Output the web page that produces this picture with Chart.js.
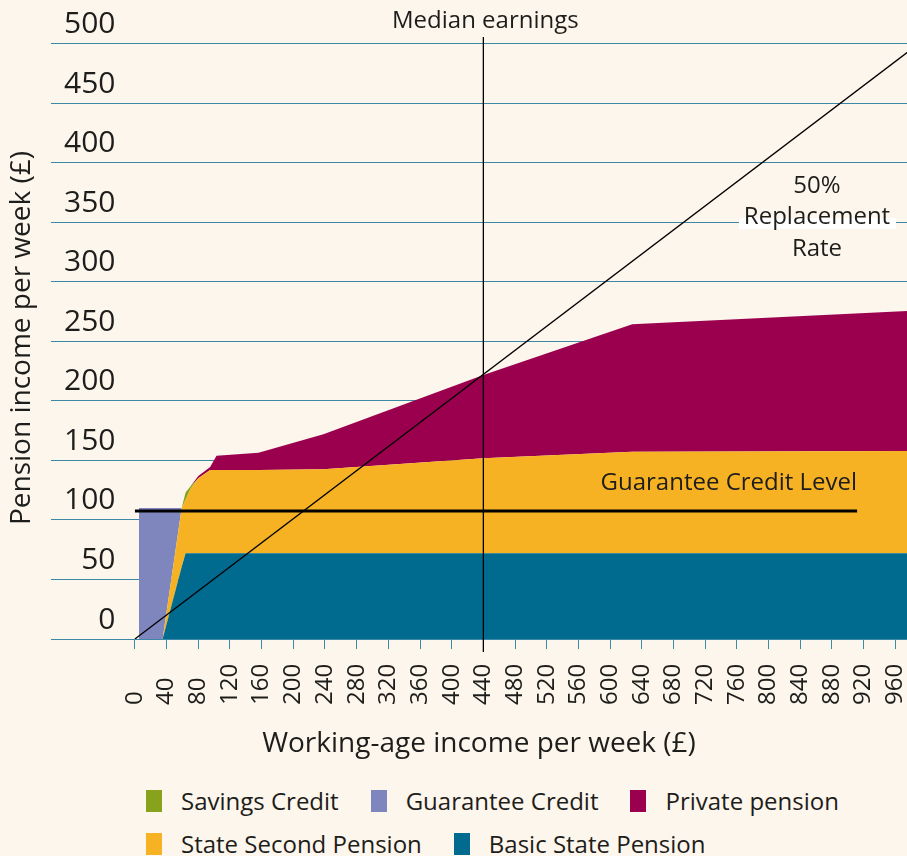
<!DOCTYPE html>
<html>
<head>
<meta charset="utf-8">
<script src="https://cdn.jsdelivr.net/npm/chart.js@4.4.1/dist/chart.umd.min.js"></script>
<style>
    body { margin: 0; background: #fdf6ec; font-family: "Open Sans", sans-serif; color: #1d1d1b; }
    #wrap { position: relative; width: 907px; height: 856px; overflow: hidden; }
    #CHART { display: block; }
    #legend {
        position: absolute; left: 146px; top: 790px; width: 761px;
        display: flex; flex-wrap: wrap; column-gap: 32px; row-gap: 21px;
        font-size: 24px; line-height: 22px;
    }
    #legend .item { display: flex; align-items: center; height: 22px; white-space: nowrap; }
    #legend .swatch { width: 16px; height: 22px; margin-right: 19px; }
</style>
</head>
<body>
<div id="wrap">
    <canvas id="CHART" width="907" height="780"></canvas>
    <div id="legend"></div>
</div>
<script>
"use strict"

// weekly working-age income (£) where the stacked pension components change
const incomes = [5, 35, 59, 64, 70, 80, 95, 103, 156, 238, 440, 628, 975]
const basicState = [0, 0, 60.5, 72, 72, 72, 72, 72, 72, 72, 72, 72, 72]
const stateSecond = [0, 0, 49.5, 45, 54, 63, 70, 70, 70, 70.6, 79.8, 85.3, 85.9]
const savingsCredit = [0, 0, 0, 6, 2, 0, 0, 0, 0, 0, 0, 0, 0]
const privatePension = [0, 0, 0, 0, 0, 2, 2.5, 12, 14.5, 29.4, 69.9, 107, 117.6]
const guaranteeCredit = [110, 110, 0, 0, 0, 0, 0, 0, 0, 0, 0, 0, 0]

// reference lines
const medianIncome = 440
const guaranteeLevel = 107.5
const guaranteeSpan = [0, 912]
const replacementRate = [[0, 0], [980, 495]]

const xTickValues = [0, 40, 80, 120, 160, 200, 240, 280, 320, 360, 400, 440, 480,
    520, 560, 600, 640, 680, 720, 760, 800, 840, 880, 920, 960]
const legendOrder = ["Savings Credit", "Guarantee Credit", "Private pension",
    "State Second Pension", "Basic State Pension"]

const FONT = "\"Open Sans\", sans-serif"
const INK = "#1d1d1b"
const GRID = "#3d87a7"

function xy(ys) { return incomes.map((x, i) => ({ x: x, y: ys[i] })) }

function area(label, ys, color, fill) {
    return {
        label: label,
        data: xy(ys),
        stack: "income",
        fill: fill,
        backgroundColor: color,
        borderColor: color,
        borderWidth: 0,
        pointRadius: 0,
        tension: 0,
    }
}

function rule(label, points, width, extra) {
    return Object.assign({
        label: label,
        data: points.map(p => ({ x: p[0], y: p[1] })),
        stack: label,
        fill: false,
        borderColor: "#000",
        borderWidth: width,
        pointRadius: 0,
        tension: 0,
        order: -1,
    }, extra || {})
}

const annotations = {
    id: "annotations",
    afterDraw(chart) {
        const { ctx } = chart
        const xs = chart.scales.x
        const ys = chart.scales.y
        ctx.save()
        ctx.fillStyle = INK
        ctx.font = `24px ${FONT}`

        // x tick labels read upwards from a common base line
        const base = xs.top + 66
        xs.ticks.forEach(t => {
            ctx.save()
            ctx.translate(xs.getPixelForValue(t.value), base)
            ctx.rotate(-Math.PI / 2)
            ctx.textAlign = "left"
            ctx.textBaseline = "middle"
            ctx.fillText(String(t.value), 0, 0)
            ctx.restore()
        })

        ctx.textBaseline = "alphabetic"
        ctx.textAlign = "center"
        ctx.fillText("Median earnings", xs.getPixelForValue(medianIncome) + 2, 28)

        ctx.textAlign = "right"
        ctx.fillText("Guarantee Credit Level", xs.getPixelForValue(guaranteeSpan[1]),
            ys.getPixelForValue(guaranteeLevel) - 21)

        ctx.fillStyle = "#fff"
        ctx.fillRect(739, 218, 157, 11)
        ctx.fillStyle = INK
        ctx.textAlign = "center"
        ctx.fillText("50%", 817, 193)
        ctx.fillText("Replacement", 817, 224)
        ctx.fillText("Rate", 817, 256)
        ctx.restore()
    }
}

const chart = new Chart(CHART, {
    type: "line",
    data: {
        datasets: [
            area("Basic State Pension", basicState, "#006b8f", "origin"),
            area("State Second Pension", stateSecond, "#f6b223", "-1"),
            area("Savings Credit", savingsCredit, "#86a31b", "-1"),
            area("Private pension", privatePension, "#9b004f", "-1"),
            area("Guarantee Credit", guaranteeCredit, "#7f86bd", "-1"),
            rule("Median earnings", [[medianIncome, -11], [medianIncome, 505.6]], 1.3, { clip: false }),
            rule("Guarantee Credit Level", guaranteeSpan.map(x => [x, guaranteeLevel]), 3),
            rule("50% Replacement Rate", replacementRate, 1.3),
        ]
    },
    options: {
        animation: false,
        responsive: false,
        events: [],
        layout: { padding: { top: 37, left: 0, right: 0, bottom: 0 } },
        plugins: { legend: { display: false }, tooltip: { enabled: false } },
        scales: {
            x: {
                type: "linear",
                min: -106,
                max: 975,
                afterBuildTicks: axis => axis.ticks = xTickValues.map(v => ({ value: v })),
                afterFit: axis => { axis.height = 141 },
                grid: { drawOnChartArea: false, drawTicks: true, tickLength: 10, color: GRID },
                border: { display: false },
                ticks: { display: false },
                title: {
                    display: true,
                    text: "Working-age income per week (£)",
                    color: INK,
                    font: { family: FONT, size: 28 },
                    padding: { top: 0, bottom: 19 },
                },
            },
            y: {
                stacked: true,
                min: 0,
                max: 505.6,
                afterFit: axis => { axis.width = 51 },
                grid: { color: GRID, drawTicks: false },
                border: { display: false },
                ticks: {
                    stepSize: 50,
                    includeBounds: false,
                    mirror: true,
                    crossAlign: "far",
                    padding: 13,
                    labelOffset: -19,
                    color: INK,
                    font: { family: FONT, size: 30 },
                },
                title: {
                    display: true,
                    text: "Pension income per week (£)",
                    color: INK,
                    font: { family: FONT, size: 28 },
                    padding: { top: 5, bottom: 0 },
                },
            },
        },
    },
    plugins: [annotations],
})

// legend in its own block under the canvas
const legend = document.getElementById("legend")
legendOrder.forEach(name => {
    const ds = chart.data.datasets.find(d => d.label == name)
    const item = document.createElement("div")
    item.className = "item"
    const swatch = document.createElement("span")
    swatch.className = "swatch"
    swatch.style.background = ds.backgroundColor
    item.appendChild(swatch)
    item.appendChild(document.createTextNode(name))
    legend.appendChild(item)
})
</script>
</body>
</html>
